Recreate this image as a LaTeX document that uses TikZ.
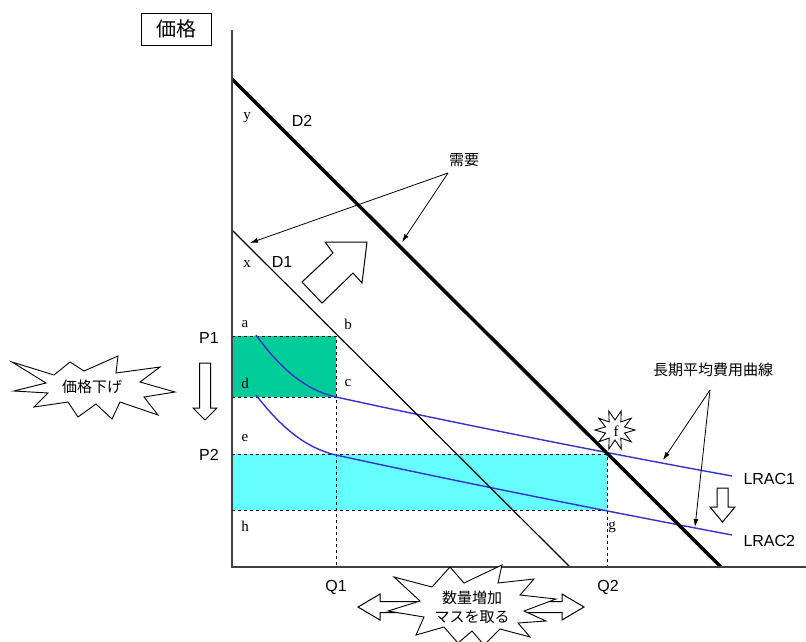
\documentclass[tikz,border=0pt]{standalone}
\usepackage{fontspec}
\setmainfont{Liberation Serif}
\setsansfont{Liberation Sans}
\newfontfamily\jpfont{Noto Sans CJK JP}
\usetikzlibrary{arrows.meta}
\definecolor{costgreen}{RGB}{0,204,153}
\definecolor{costcyan}{RGB}{102,255,255}
\definecolor{curveblue}{RGB}{51,51,204}
\begin{document}
\begin{tikzpicture}[x=1pt,y=-1pt,
  axisline/.style={line width=1.2pt,black!75},
  guide/.style={dashed,line width=.8pt},
  lrac/.style={curveblue,line width=1.4pt},
  ptr/.style={-{Latex[length=8pt,width=5pt]},line width=.8pt},
  ltr/.style={font=\fontsize{15}{17}\selectfont},
  lab/.style={font=\sffamily\fontsize{16}{18}\selectfont},
  jlab/.style={font=\jpfont\fontsize{15}{19}\selectfont,align=center},
  fat/.style={draw,fill=white,line width=1pt}]
 \useasboundingbox (0,0) rectangle (806,641);
 % price / quantity boxes
 \fill[costgreen] (232,336) rectangle (336,397);
 \fill[costcyan] (232,454) rectangle (607,510);
 \draw[guide] (232,336)--(336,336)--(336,567);
 \draw[guide] (232,397)--(336,397);
 \draw[guide] (232,454)--(607,454)--(607,567);
 \draw[guide] (232,510)--(607,510);
 % cost curves
 \draw[lrac] (256,335) .. controls (280,368) and (305,390) .. (336,397)
   .. controls (450,422) and (600,452) .. (732,476);
 \draw[lrac,yshift=-58pt] (256,337) .. controls (280,368) and (305,390) .. (336,397)
   .. controls (450,422) and (600,452) .. (732,477);
 % demand
 \draw[line width=1.2pt] (232,230)--(570,567);
 \draw[line width=3.5pt] (232,79)--(721,567);
 \draw[axisline] (232,30)--(232,567)--(806,567);
 % labels
 \node[draw,line width=.9pt,minimum width=70pt,minimum height=32pt,
   font=\jpfont\fontsize{20}{22}\selectfont] (price) at (176,29) {価格};
 \node[ltr] (ly) at (247,118) {y};
 \node[lab] (d2) at (302,121) {D2};
 \node[ltr] (lx) at (247,264) {x};
 \node[lab] (d1) at (282,262) {D1};
 \node[ltr] (la) at (245,324) {a};
 \node[ltr] (lb) at (348,324) {b};
 \node[ltr] (ld) at (245,383) {d};
 \node[ltr] (lc) at (348,383) {c};
 \node[ltr] (le) at (245,438) {e};
 \node[ltr] (lh) at (245,526) {h};
 \node[ltr] (lg) at (612,527) {g};
 \node[lab] (p1) at (209,338) {P1};
 \node[lab] (p2) at (209,455) {P2};
 \node[lab] (q1) at (336,587) {Q1};
 \node[lab] (q2) at (608,587) {Q2};
 \node[lab,anchor=west] (lrac1) at (740,479) {LRAC1};
 \node[lab,anchor=west] (lrac2) at (740,541) {LRAC2};
 % callouts
 \node[jlab] (dem) at (464,160) {需要};
 \coordinate (demA) at (448,173);
 \coordinate (demB) at (250,243);
 \coordinate (demC) at (402,242);
 \draw[ptr] (demA)--(demB);
 \draw[ptr] (demA)--(demC);
 \node[jlab] (cost) at (713,370) {長期平均費用曲線};
 \coordinate (costA) at (710,390);
 \coordinate (costB) at (663,460);
 \coordinate (costC) at (695,527);
 \draw[ptr] (costA)--(costB);
 \draw[ptr] (costA)--(costC);
 % block arrows
 \draw[fat] (367,242)--(362,283)--(353,273)--(322,303)--(302,282)--(333,253)--(325,242)--cycle;
 \draw[fat] (199.5,363)--(210.5,363)--(210.5,408)--(217,408)--(205,420)--(193,408)--(199.5,408)--cycle;
 \draw[fat] (717,488)--(728,488)--(728,507)--(735,507)--(722.5,522)--(710,507)--(717,507)--cycle;
 \draw[fat] (358,607)--(380,594)--(380,601.5)--(562,601.5)--(562,594)--(584,607)
   --(562,620)--(562,612.5)--(380,612.5)--(380,620)--cycle;
 % bursts
 \begin{scope}[shift={(92,387)}]
  \draw[fat,line width=.9pt] (-80,-25)--(-38,-12)--(-22,-25)--(-8,-16)--(26,-31)--(24,-14)
    --(68,-20)--(48,-5)--(83,5)--(52,10)--(66,28)--(28,15)--(20,32)--(4,17)
    --(-14,30)--(-24,15)--(-58,20)--(-44,6)--(-78,4)--(-46,-4)--cycle;
 \end{scope}
 \node[jlab] (cut) at (92,387) {価格下げ};
 \begin{scope}[shift={(472,607)}]
  \draw[fat,line width=.9pt] (-78,-30)--(-40,-20)--(-22,-40)--(-8,-24)--(30,-42)--(26,-24)
    --(62,-28)--(48,-12)--(84,-8)--(52,4)--(74,14)--(46,16)--(58,30)--(28,22)
    --(12,38)--(0,24)--(-14,36)--(-28,20)--(-56,28)--(-48,10)--(-84,4)--(-52,-6)--cycle;
 \end{scope}
 \node[jlab] (more) at (472,607) {数量増加\\マスを取る};
 \begin{scope}[shift={(615,430)}]
  \draw[fat,line width=.9pt] plot[samples at={0,18,...,342}]
    (\x:{ifthenelse(mod(\x,36)==0,20,10)}) -- cycle;
 \end{scope}
 \node[ltr] (fpt) at (616,431) {f};
\end{tikzpicture}
\end{document}
